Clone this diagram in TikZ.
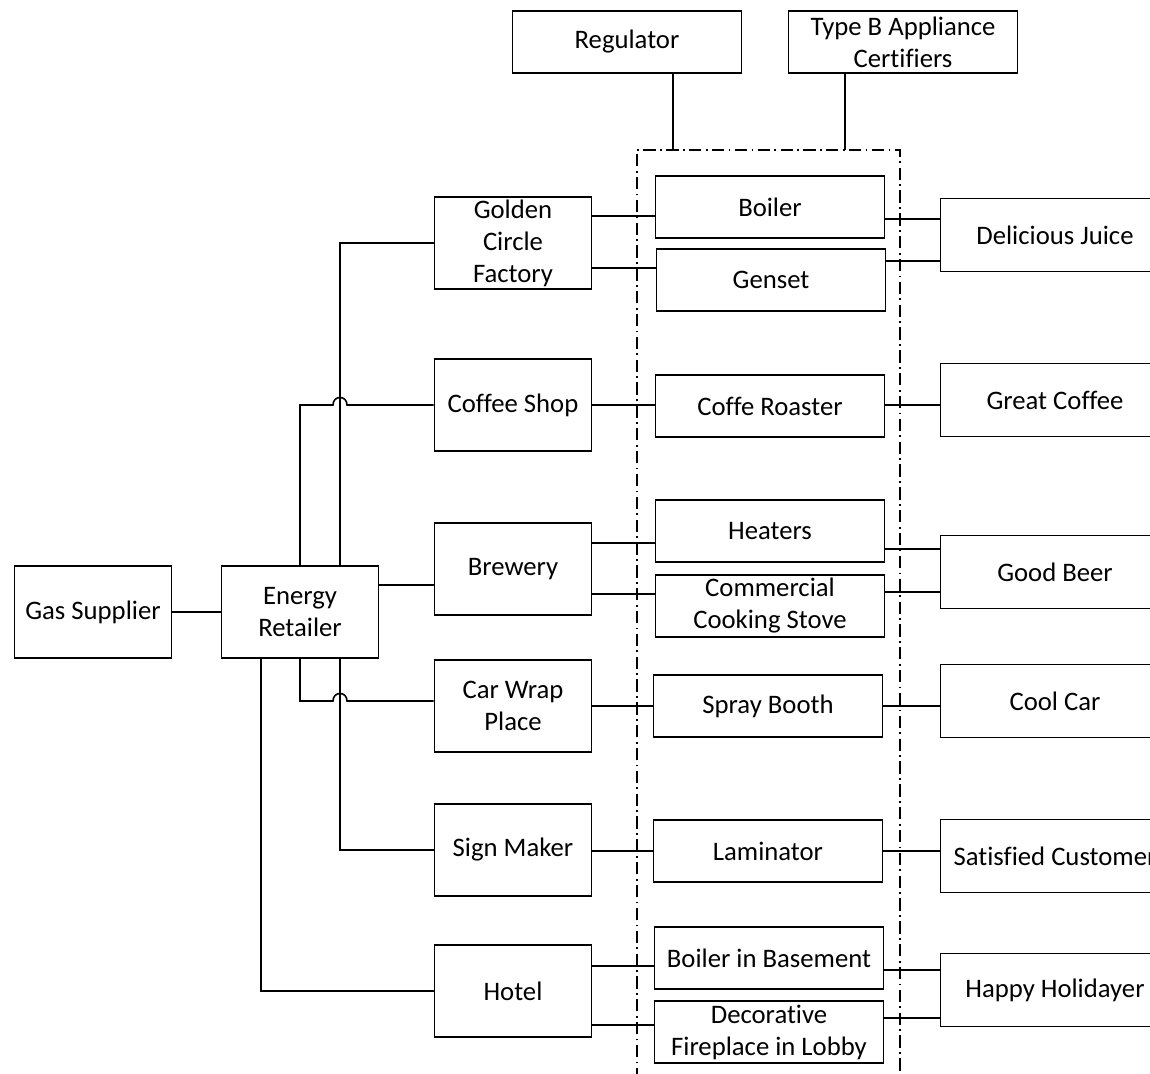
\documentclass[tikz,border=0pt]{standalone}
\usepackage{fontspec}
\setmainfont[Ligatures=NoCommon]{Carlito}
\usepackage{tikz}
\usetikzlibrary{positioning,calc}

\begin{document}
\begin{tikzpicture}[
  x=0.02cm,y=-0.02cm,
  line width=0.9pt,
  txt/.style={font=\fontsize{15.2}{18.2}\selectfont},
  party/.style={draw,txt,minimum width=3.14cm,minimum height=1.84cm,align=center,inner sep=1pt},
  appl/.style={draw,txt,minimum width=4.58cm,minimum height=1.24cm,align=center,inner sep=1pt},
  outc/.style={appl,minimum height=1.46cm},
  zone/.style={dash pattern=on 7pt off 2.5pt on 1pt off 2.5pt}
]
\useasboundingbox (0,0) rectangle (1150,1074);
% overseers
\node[appl] (reg) at (627,42) {Regulator};
\node[appl] (cert) at (903,42) {Type B Appliance\\Certifiers};
% supply chain
\node[party] (gas) at (93,612) {Gas Supplier};
\node[party] (er) at (300,612) {Energy\\Retailer};
% businesses
\node[party] (gcf) at (513,243) {Golden\\Circle\\Factory};
\node[party] (cs) at (513,405) {Coffee Shop};
\node[party] (brew) at (513,569) {Brewery};
\node[party] (cw) at (513,706) {Car Wrap\\Place};
\node[party] (sm) at (513,850) {Sign Maker};
\node[party] (hot) at (513,991) {Hotel};
% appliances
\node[appl] (boil) at (770,207) {Boiler};
\node[appl] (gen) at (771,280) {Genset};
\node[appl] (roast) at (770,406) {Coffe Roaster};
\node[appl] (heat) at (770,531) {Heaters};
\node[appl] (stove) at (770,606) {Commercial\\Cooking Stove};
\node[appl] (spray) at (768,706) {Spray Booth};
\node[appl] (lam) at (768,851) {Laminator};
\node[appl] (bib) at (769,958) {Boiler in Basement};
\node[appl] (fire) at (769,1032) {Decorative\\Fireplace in Lobby};
% outcomes
\node[outc] (juice) at (1055,235) {Delicious Juice};
\node[outc] (coffee) at (1055,400) {Great Coffee};
\node[outc] (beer) at (1055,572) {Good Beer};
\node[outc] (car) at (1055,701) {Cool Car};
\node[outc] (cust) at (1055,856) {Satisfied Customer};
\node[outc] (holi) at (1055,990) {Happy Holidayer};
% regulated zone
\draw[zone] (637,1080) -- (637,150) -- (900,150) -- (900,1080);
\coordinate (regin) at (673,150);
\coordinate (certin) at (845,150);
\draw (reg.south -| regin) -- (regin);
\draw (cert.south -| certin) -- (certin);
% retailer to businesses
\draw (gas) -- (er);
\draw (er.north -| 340,0) |- (gcf.west);
\draw (er.north) -- (300,405) -- (333,405) .. controls (333,395) and (347,395) .. (347,405) -- (cs.west);
\draw (er.east |- 0,585) -- (brew.west |- 0,585);
\draw (er.south) -- (300,701) -- (333,701) .. controls (333,691) and (347,691) .. (347,701) -- (cw.west |- 0,701);
\draw (er.south -| 340,0) |- (sm.west);
\draw (er.south -| 261,0) |- (hot.west);
% businesses to appliances
\draw (gcf.east |- 0,216) -- (boil.west |- 0,216);
\draw (gcf.east |- 0,268) -- (gen.west |- 0,268);
\draw (cs.east |- 0,405) -- (roast.west |- 0,405);
\draw (brew.east |- 0,543) -- (heat.west |- 0,543);
\draw (brew.east |- 0,594) -- (stove.west |- 0,594);
\draw (cw.east |- 0,706) -- (spray.west |- 0,706);
\draw (sm.east |- 0,851) -- (lam.west |- 0,851);
\draw (hot.east |- 0,966) -- (bib.west |- 0,966);
\draw (hot.east |- 0,1025) -- (fire.west |- 0,1025);
% appliances to outcomes
\draw (boil.east |- 0,219) -- (juice.west |- 0,219);
\draw (gen.east |- 0,261) -- (juice.west |- 0,261);
\draw (roast.east |- 0,405) -- (coffee.west |- 0,405);
\draw (heat.east |- 0,549) -- (beer.west |- 0,549);
\draw (stove.east |- 0,592) -- (beer.west |- 0,592);
\draw (spray.east |- 0,706) -- (car.west |- 0,706);
\draw (lam.east |- 0,851) -- (cust.west |- 0,851);
\draw (bib.east |- 0,970) -- (holi.west |- 0,970);
\draw (fire.east |- 0,1018) -- (holi.west |- 0,1018);
\end{tikzpicture}
\end{document}
